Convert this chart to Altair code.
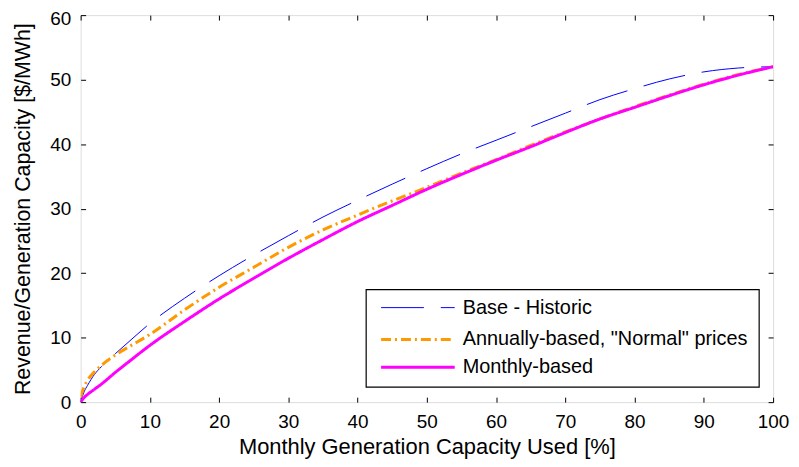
import altair as alt
import pandas as pd

# ---- data ----
x_pct = [0, 0.5, 1, 2, 3, 5, 7, 10, 15, 20, 25, 30, 35, 40, 45, 50, 55, 60, 65, 70, 75, 80, 85, 90, 95, 100]
base_historic = [0, 1.6, 2.6, 4.3, 5.5, 7.5, 9.4, 12.2, 16.1, 19.6, 22.8, 25.8, 28.7, 31.3, 33.8, 36.2,
                 38.5, 40.6, 42.7, 44.8, 46.9, 48.6, 50.1, 51.2, 51.8, 52.0]
annual_normal = [0.8, 2.4, 3.4, 4.7, 5.7, 7.3, 8.6, 10.5, 14.3, 17.8, 20.9, 24.0, 26.7, 29.0, 31.2, 33.3,
                 35.5, 37.6, 39.8, 41.9, 43.9, 45.8, 47.6, 49.3, 50.8, 52.0]
monthly = [0, 0.7, 1.2, 2.0, 2.8, 4.6, 6.3, 8.8, 12.5, 16.0, 19.2, 22.3, 25.2, 28.0, 30.5, 33.0,
           35.3, 37.5, 39.6, 41.8, 43.9, 45.7, 47.5, 49.2, 50.7, 52.0]

series_names = ["Base - Historic", 'Annually-based, "Normal" prices', "Monthly-based"]
series_values = [base_historic, annual_normal, monthly]
series_colors = ["#0000FF", "#FF9900", "#FF00FF"]
series_dash = [[43, 17], [10, 4, 2, 4], [1, 0]]
series_width = [1, 3, 3]

x_ticks = list(range(0, 101, 10))
y_ticks = list(range(0, 61, 10))

FONT = "Liberation Sans"
W, H = 696, 389

xs = alt.Scale(domain=[0, 100], nice=False, zero=False)
ys = alt.Scale(domain=[0, 60], nice=False, zero=False)

main_x_axis = alt.Axis(orient="bottom", offset=-5, tickSize=5, values=x_ticks, domain=False, grid=False,
                       labelFlush=False, labelPadding=10, labelFontSize=19, labelFont=FONT,
                       labelColor="black", tickColor="black",
                       title="Monthly Generation Capacity Used [%]",
                       titleFont=FONT, titleFontSize=22, titleFontWeight="normal", titleColor="black",
                       titlePadding=6)
main_y_axis = alt.Axis(orient="left", offset=-5, tickSize=5, values=y_ticks, domain=False, grid=False,
                       labelFlush=False, labelPadding=10, labelFontSize=19, labelFont=FONT,
                       labelColor="black", tickColor="black",
                       labelOffset={"condition": {"test": "datum.value === 60", "value": 3}, "value": 0},
                       title="Revenue/Generation Capacity [$/MWh]",
                       titleFont=FONT, titleFontSize=21.5, titleFontWeight="normal", titleColor="black",
                       titlePadding=15)
top_axis = alt.Axis(orient="top", offset=-5, tickSize=5, values=x_ticks, domain=False, grid=False,
                    labels=False, title=None, tickColor="black")
right_axis = alt.Axis(orient="right", offset=-5, tickSize=5, values=y_ticks, domain=False, grid=False,
                      labels=False, title=None, tickColor="black")

layers = []
for i, (name, vals) in enumerate(zip(series_names, series_values)):
    df = pd.DataFrame({"x": x_pct, "y": vals, "series": name})
    if i == 0:
        xa, ya = main_x_axis, main_y_axis
    elif i == 1:
        xa, ya = top_axis, right_axis
    else:
        xa, ya = None, None
    layer = alt.Chart(df).mark_line(
        color=series_colors[i], strokeDash=series_dash[i], strokeWidth=series_width[i],
        clip=True, interpolate="monotone"
    ).encode(
        x=alt.X("x:Q", scale=xs, axis=xa),
        y=alt.Y("y:Q", scale=ys, axis=ya),
    )
    layers.append(layer)

# ---- legend (manual, MATLAB style box) ----
box = alt.Chart(pd.DataFrame({"a": [0]})).mark_rect(
    fill="white", stroke="black", strokeWidth=1.2
).encode(x=alt.value(287), x2=alt.value(682), y=alt.value(276), y2=alt.value(374))
layers.append(box)

row_y = [294, 326, 354]
for i, name in enumerate(series_names):
    ldf = pd.DataFrame({"series": [name]})
    sym = alt.Chart(ldf).mark_rule(
        color=series_colors[i], strokeDash=series_dash[i], strokeWidth=series_width[i]
    ).encode(x=alt.value(302), x2=alt.value(376), y=alt.value(row_y[i]))
    txt = alt.Chart(ldf).mark_text(
        align="left", baseline="middle", font=FONT, fontSize=20, color="black"
    ).encode(x=alt.value(384), y=alt.value(row_y[i]), text=alt.Text("series:N"))
    layers += [sym, txt]

chart = alt.layer(*layers).resolve_axis(x="independent", y="independent").properties(
    width=W, height=H,
    autosize=alt.AutoSizeParams(type="none"),
    padding={"left": 73, "top": 6, "right": 18, "bottom": 56},
).configure_view(stroke="black", strokeWidth=1.5).configure(background="white")

chart.save("out.html", embed_options={"renderer": "svg", "actions": False})
